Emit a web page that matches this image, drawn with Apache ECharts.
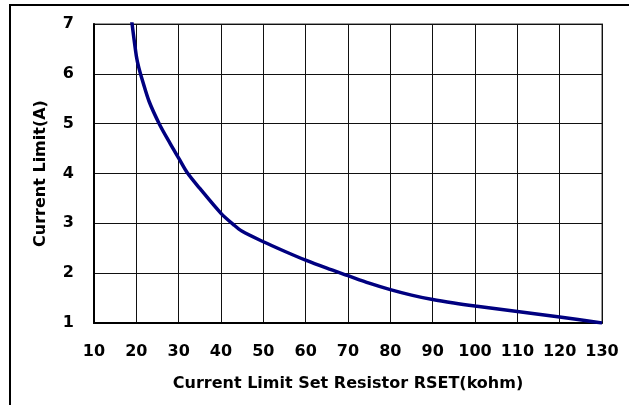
<!DOCTYPE html>
<html>
<head>
<meta charset="utf-8">
<script src="https://cdn.jsdelivr.net/npm/echarts@6/dist/echarts.min.js"></script>
<style>
html,body{margin:0;padding:0;background:#fff;}
#frame{position:absolute;left:9px;top:4px;width:620px;height:401px;border-left:2px solid #000;border-top:2px solid #000;box-sizing:border-box;}
#chart{position:absolute;left:0;top:0;width:629px;height:405px;}
</style>
</head>
<body>
<div id="frame"></div>
<div id="chart"></div>
<script>
const rsetKohm = [18.4, 19, 20, 20.6, 21.5, 23, 25.4, 28, 30, 32, 35, 40, 43, 45, 50, 55, 60, 65, 70, 75, 80, 85, 90, 95, 100, 110, 120, 130];
const currentLimitA = [7.45, 7, 6.36, 6.12, 5.85, 5.45, 5.0, 4.6, 4.31, 4.02, 3.70, 3.20, 2.97, 2.84, 2.63, 2.44, 2.26, 2.1, 1.95, 1.80, 1.67, 1.56, 1.47, 1.40, 1.34, 1.23, 1.12, 1.0];
const xTitle = 'Current Limit Set Resistor RSET(kohm)';
const yTitle = 'Current Limit(A)';

const chart = echarts.init(document.getElementById('chart'), null, {renderer: 'canvas'});
const font = {fontFamily: 'DejaVu Sans, sans-serif', fontWeight: 'bold', color: '#000'};
chart.setOption({
  animation: false,
  backgroundColor: 'transparent',
  grid: {left: 94, right: 27, top: 24, bottom: 82, show: true, borderColor: '#999', borderWidth: 2},
  xAxis: {
    type: 'value', min: 10, max: 130, interval: 10,
    name: xTitle, nameLocation: 'middle', nameGap: 53,
    nameTextStyle: Object.assign({fontSize: 16}, font),
    axisLine: {show: true, onZero: false, lineStyle: {color: '#000', width: 2}},
    axisTick: {show: false},
    axisLabel: Object.assign({fontSize: 16, margin: 21}, font),
    splitLine: {show: true, lineStyle: {color: '#111', width: 1}}
  },
  yAxis: {
    type: 'value', min: 1, max: 7, interval: 1,
    name: yTitle, nameLocation: 'middle', nameGap: 45,
    nameTextStyle: Object.assign({fontSize: 16}, font),
    axisLine: {show: true, onZero: false, lineStyle: {color: '#000', width: 2}},
    axisTick: {show: false},
    axisLabel: Object.assign({fontSize: 16, margin: 20}, font),
    splitLine: {show: true, lineStyle: {color: '#111', width: 1}}
  },
  series: [{
    type: 'line',
    data: rsetKohm.map((x, i) => [x, currentLimitA[i]]),
    smooth: 0.3,
    showSymbol: false,
    lineStyle: {color: '#000080', width: 3.5},
    clip: true
  }]
});
</script>
</body>
</html>
